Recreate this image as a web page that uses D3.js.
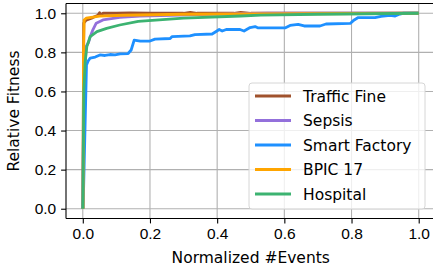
<!DOCTYPE html>
<html>
<head>
<meta charset="utf-8">
<script src="https://cdn.jsdelivr.net/npm/d3@7"></script>
<style>
  body { margin: 0; background: #fff; }
  svg { display: block; font-family: "DejaVu Sans", sans-serif; }
  .grid line { stroke: #b0b0b0; stroke-width: 1.1; }
  .axis text { font-size: 15.5px; fill: #000; }
  .axis path, .axis line { stroke: #000; stroke-width: 1.1; }
</style>
</head>
<body>
<div class="js-container"></div>
<script>
;(function() {
  'use strict';

  var seriesNames = ['Traffic Fine', 'Sepsis', 'Smart Factory', 'BPIC 17', 'Hospital'];
  var seriesColors = ['#a0522d', '#9370db', '#1e90ff', '#ffa500', '#3cb371'];

  var xTicks = [0, 0.2, 0.4, 0.6, 0.8, 1.0];
  var yTicks = [0, 0.2, 0.4, 0.6, 0.8, 1.0];

  // [normalized #events, relative fitness]
  var trafficFine = [[0, 0], [0.003, 0.95], [0.01, 0.965], [0.03, 0.978], [0.045, 0.99],
    [0.05, 1.003], [0.055, 0.99], [0.06, 1.0], [0.1, 1.0], [0.14, 1.002], [0.2, 1.0],
    [0.3, 1.0], [0.32, 1.004], [0.34, 1.0], [0.45, 1.0], [0.47, 1.004], [0.5, 1.0], [1.0, 1.0]];
  var sepsis = [[0, 0], [0.003, 0.6], [0.01, 0.83], [0.017, 0.85], [0.022, 0.88],
    [0.03, 0.915], [0.04, 0.949], [0.06, 0.966], [0.11, 0.979], [0.17, 0.986],
    [0.26, 0.99], [0.4, 0.996], [0.55, 1.0], [1.0, 1.0]];
  var smartFactory = [[0.001, 0], [0.011, 0.735], [0.016, 0.756], [0.022, 0.771],
    [0.037, 0.776], [0.051, 0.787], [0.066, 0.784], [0.081, 0.789], [0.096, 0.787],
    [0.111, 0.792], [0.135, 0.794], [0.144, 0.812], [0.153, 0.863], [0.171, 0.858],
    [0.2, 0.858], [0.215, 0.868], [0.26, 0.871], [0.266, 0.881], [0.319, 0.884],
    [0.334, 0.891], [0.385, 0.894], [0.397, 0.907], [0.406, 0.917], [0.415, 0.909],
    [0.427, 0.917], [0.468, 0.917], [0.48, 0.909], [0.498, 0.927], [0.513, 0.932],
    [0.522, 0.925], [0.602, 0.925], [0.617, 0.938], [0.641, 0.943], [0.659, 0.935],
    [0.706, 0.935], [0.724, 0.945], [0.796, 0.948], [0.808, 0.966], [0.82, 0.978],
    [0.87, 0.978], [0.888, 0.984], [0.915, 0.989], [0.93, 0.986], [0.944, 0.996],
    [0.953, 1.0], [1.0, 1.0]];
  var bpic17 = [[0.001, 0], [0.002, 0.8], [0.004, 0.965], [0.01, 0.975], [0.05, 0.985],
    [0.12, 0.99], [0.3, 0.995], [1.0, 1.0]];
  var hospital = [[0, 0], [0.003, 0.6], [0.007, 0.75], [0.012, 0.83], [0.022, 0.88],
    [0.042, 0.906], [0.071, 0.923], [0.11, 0.94], [0.165, 0.959], [0.3, 0.975],
    [0.47, 0.986], [0.53, 0.991], [0.7, 0.995], [1.0, 1.0]];

  var seriesValues = [trafficFine, sepsis, smartFactory, bpic17, hospital];

  var windowW = 433;
  var windowH = 272;
  var margin = {top: 3.5, right: -2.5, bottom: 53.5, left: 66};
  var plotW = windowW - margin.left - margin.right;
  var plotH = windowH - margin.top - margin.bottom;

  var svg = d3.select('.js-container').append('svg')
              .attr('width', windowW)
              .attr('height', windowH);

  var g = svg.append('g')
             .attr('transform', 'translate(' + margin.left + ',' + margin.top + ')');

  var x = d3.scaleLinear().domain([-0.05, 1.05]).range([0, plotW]);
  var y = d3.scaleLinear().domain([-0.05, 1.05]).range([plotH, 0]);

  // Grid lines, behind everything else.
  var grid = g.append('g').classed('grid', true);
  grid.selectAll('.gx').data(xTicks).enter().append('line')
      .attr('x1', function(d) { return x(d); })
      .attr('x2', function(d) { return x(d); })
      .attr('y1', 0).attr('y2', plotH);
  grid.selectAll('.gy').data(yTicks).enter().append('line')
      .attr('y1', function(d) { return y(d); })
      .attr('y2', function(d) { return y(d); })
      .attr('x1', 0).attr('x2', plotW);

  var line = d3.line()
               .x(function(d) { return x(d[0]); })
               .y(function(d) { return y(d[1]); });

  for (var n = 0; n < seriesValues.length; n++) {
    g.append('path')
        .datum(seriesValues[n])
        .attr('d', line)
        .attr('fill', 'none')
        .attr('stroke', seriesColors[n])
        .attr('stroke-width', 2.8)
        .attr('stroke-linejoin', 'round')
        .attr('stroke-linecap', 'butt');
  }

  var fmt = d3.format('.1f');

  var xAxis = g.append('g').classed('axis', true)
      .attr('transform', 'translate(0,' + plotH + ')')
      .call(d3.axisBottom(x).tickValues(xTicks).tickFormat(fmt).tickSize(4.9).tickPadding(4.9));
  var yAxis = g.append('g').classed('axis', true)
      .call(d3.axisLeft(y).tickValues(yTicks).tickFormat(fmt).tickSize(4.9).tickPadding(4.9));
  xAxis.select('.domain').attr('d', 'M0,0H' + plotW);
  yAxis.select('.domain').attr('d', 'M0,0V' + plotH);

  // Top and right spines.
  g.append('line').attr('x1', 0).attr('x2', plotW).attr('y1', 0).attr('y2', 0)
      .attr('stroke', '#000').attr('stroke-width', 1.1);
  g.append('line').attr('x1', plotW).attr('x2', plotW).attr('y1', 0).attr('y2', plotH)
      .attr('stroke', '#000').attr('stroke-width', 1.1);

  svg.append('text')
      .attr('x', margin.left + plotW / 2)
      .attr('y', 263)
      .attr('text-anchor', 'middle')
      .style('font-size', '15.5px')
      .attr('fill', '#000')
      .text('Normalized #Events');

  svg.append('text')
      .attr('transform', 'translate(19,' + (margin.top + plotH / 2) + ') rotate(-90)')
      .attr('text-anchor', 'middle')
      .style('font-size', '15.5px')
      .attr('fill', '#000')
      .text('Relative Fitness');

  // Legend
  var legend = svg.append('g').attr('transform', 'translate(249,83)');
  legend.append('rect')
      .attr('width', 176).attr('height', 126)
      .attr('rx', 3)
      .attr('fill', 'rgba(255,255,255,0.8)')
      .attr('stroke', '#d6d6d6')
      .attr('stroke-width', 1);

  var items = legend.selectAll('.item').data(seriesNames).enter().append('g')
      .attr('transform', function(d, i) { return 'translate(0,' + (13 + i * 24.5) + ')'; });
  items.append('line')
      .attr('x1', 6).attr('x2', 42)
      .attr('stroke', function(d, i) { return seriesColors[i]; })
      .attr('stroke-width', 2.8);
  items.append('text')
      .attr('x', 54)
      .attr('dy', '0.36em')
      .style('font-size', '15.5px')
      .attr('fill', '#000')
      .text(function(d) { return d; });

}());
</script>
</body>
</html>
